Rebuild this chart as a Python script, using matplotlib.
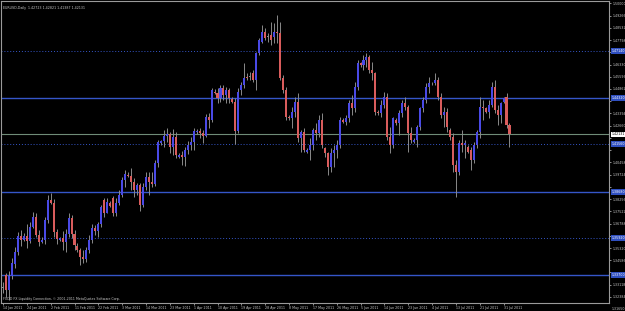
import numpy as np
import matplotlib.pyplot as plt
from matplotlib.transforms import blended_transform_factory

# EURUSD daily candles (one entry per bar, Sunday bars included)
opens = [1.3292, 1.3370, 1.3280, 1.3364, 1.3436, 1.3508, 1.3604, 1.3582, 1.3606, 1.3572,
         1.3660, 1.3716, 1.3612, 1.3570, 1.3580, 1.3700, 1.3820, 1.3800, 1.3626, 1.3580,
         1.3590, 1.3566, 1.3616, 1.3712, 1.3616, 1.3545, 1.3520, 1.3478, 1.3466, 1.3520,
         1.3580, 1.3652, 1.3632, 1.3676, 1.3820, 1.3744, 1.3800, 1.3830, 1.3742, 1.3800,
         1.3850, 1.3940, 1.3970, 1.3964, 1.3930, 1.3880, 1.3910, 1.3790, 1.3900, 1.3960,
         1.3930, 1.3916, 1.4040, 1.4160, 1.4172, 1.4206, 1.4218, 1.4140, 1.4200, 1.4080,
         1.4090, 1.4080, 1.4122, 1.4150, 1.4170, 1.4228, 1.4236, 1.4220, 1.4206, 1.4320,
         1.4300, 1.4470, 1.4462, 1.4430, 1.4490, 1.4450, 1.4480, 1.4424, 1.4410, 1.4236,
         1.4480, 1.4510, 1.4556, 1.4560, 1.4582, 1.4540, 1.4700, 1.4770, 1.4828, 1.4800,
         1.4810, 1.4800, 1.4830, 1.4822, 1.4552, 1.4480, 1.4318, 1.4310, 1.4350, 1.4410,
         1.4190, 1.4230, 1.4110, 1.4120, 1.4150, 1.4240, 1.4220, 1.4300, 1.4130, 1.4100,
         1.4020, 1.4100, 1.4120, 1.4150, 1.4300, 1.4290, 1.4310, 1.4400, 1.4370, 1.4500,
         1.4640, 1.4630, 1.4660, 1.4680, 1.4600, 1.4580, 1.4350, 1.4340, 1.4390, 1.4440,
         1.4200, 1.4150, 1.4300, 1.4280, 1.4340, 1.4400, 1.4380, 1.4220, 1.4170, 1.4180,
         1.4260, 1.4370, 1.4420, 1.4500, 1.4520, 1.4525, 1.4540, 1.4440, 1.4330, 1.4350,
         1.4240, 1.4200, 1.4030, 1.3990, 1.4160, 1.4150, 1.4140, 1.4120, 1.4060, 1.4150,
         1.4230, 1.4380, 1.4370, 1.4350, 1.4390, 1.4500, 1.4360, 1.4330, 1.4410, 1.4440,
         1.42723]
highs = [1.3330, 1.3382, 1.3394, 1.3472, 1.3538, 1.3628, 1.3640, 1.3620, 1.3676, 1.3690,
         1.3748, 1.3742, 1.3640, 1.3596, 1.3720, 1.3850, 1.3862, 1.3826, 1.3646, 1.3600,
         1.3632, 1.3646, 1.3742, 1.3730, 1.3640, 1.3560, 1.3530, 1.3520, 1.3538, 1.3610,
         1.3676, 1.3670, 1.3690, 1.3790, 1.3832, 1.3832, 1.3812, 1.3846, 1.3834, 1.3880,
         1.3960, 1.4000, 1.3986, 1.4010, 1.3950, 1.3920, 1.3920, 1.3920, 1.3990, 1.3990,
         1.3990, 1.4060, 1.4180, 1.4182, 1.4240, 1.4250, 1.4230, 1.4248, 1.4230, 1.4100,
         1.4116, 1.4140, 1.4174, 1.4200, 1.4250, 1.4244, 1.4250, 1.4240, 1.4338, 1.4340,
         1.4490, 1.4486, 1.4490, 1.4510, 1.4510, 1.4500, 1.4490, 1.4436, 1.4430, 1.4490,
         1.4530, 1.4642, 1.4580, 1.4590, 1.4600, 1.4710, 1.4790, 1.4870, 1.4850, 1.4822,
         1.4888, 1.4882, 1.4930, 1.4888, 1.4570, 1.4500, 1.4330, 1.4380, 1.4440, 1.4460,
         1.4240, 1.4250, 1.4130, 1.4190, 1.4250, 1.4280, 1.4330, 1.4340, 1.4140, 1.4110,
         1.4130, 1.4150, 1.4180, 1.4320, 1.4310, 1.4330, 1.4420, 1.4450, 1.4530, 1.4660,
         1.4650, 1.4690, 1.4700, 1.4690, 1.4650, 1.4590, 1.4360, 1.4420, 1.4470, 1.4460,
         1.4260, 1.4320, 1.4310, 1.4360, 1.4420, 1.4440, 1.4390, 1.4260, 1.4190, 1.4270,
         1.4380, 1.4440, 1.4520, 1.4560, 1.4530, 1.4580, 1.4560, 1.4460, 1.4380, 1.4370,
         1.4250, 1.4220, 1.4060, 1.4180, 1.4240, 1.4180, 1.4150, 1.4140, 1.4170, 1.4240,
         1.4440, 1.4420, 1.4380, 1.4420, 1.4530, 1.4540, 1.4390, 1.4410, 1.4440, 1.4460,
         1.42821]
lows = [1.3262, 1.3238, 1.3220, 1.3346, 1.3412, 1.3490, 1.3544, 1.3574, 1.3532, 1.3560,
        1.3652, 1.3598, 1.3544, 1.3560, 1.3556, 1.3680, 1.3796, 1.3600, 1.3556, 1.3572,
        1.3520, 1.3508, 1.3598, 1.3592, 1.3520, 1.3510, 1.3430, 1.3442, 1.3448, 1.3500,
        1.3562, 1.3610, 1.3600, 1.3660, 1.3720, 1.3740, 1.3776, 1.3726, 1.3722, 1.3790,
        1.3836, 1.3900, 1.3956, 1.3880, 1.3840, 1.3850, 1.3756, 1.3780, 1.3880, 1.3852,
        1.3900, 1.3906, 1.4020, 1.4150, 1.4140, 1.4170, 1.4100, 1.4090, 1.4070, 1.4070,
        1.4030, 1.4026, 1.4096, 1.4118, 1.4120, 1.4216, 1.4190, 1.4160, 1.4200, 1.4250,
        1.4290, 1.4456, 1.4400, 1.4410, 1.4420, 1.4400, 1.4400, 1.4400, 1.4156, 1.4220,
        1.4450, 1.4490, 1.4540, 1.4540, 1.4530, 1.4480, 1.4690, 1.4760, 1.4780, 1.4768,
        1.4750, 1.4762, 1.4762, 1.4540, 1.4460, 1.4300, 1.4300, 1.4250, 1.4320, 1.4170,
        1.4110, 1.4110, 1.4100, 1.4060, 1.4120, 1.4180, 1.4200, 1.4130, 1.4080, 1.3970,
        1.3990, 1.4020, 1.4070, 1.4130, 1.4280, 1.4270, 1.4290, 1.4330, 1.4350, 1.4480,
        1.4620, 1.4600, 1.4620, 1.4580, 1.4540, 1.4330, 1.4330, 1.4320, 1.4370, 1.4180,
        1.4100, 1.4130, 1.4270, 1.4210, 1.4320, 1.4360, 1.4110, 1.4160, 1.4160, 1.4140,
        1.4240, 1.4350, 1.4400, 1.4460, 1.4510, 1.4510, 1.4420, 1.4310, 1.4260, 1.4230,
        1.4180, 1.3990, 1.3840, 1.3970, 1.4110, 1.4070, 1.4100, 1.4000, 1.4040, 1.4130,
        1.4190, 1.4300, 1.4340, 1.4310, 1.4380, 1.4340, 1.4270, 1.4280, 1.4400, 1.4250,
        1.41387]
closes = [1.3292, 1.3280, 1.3364, 1.3442, 1.3508, 1.3604, 1.3580, 1.3606, 1.3572, 1.3660,
          1.3716, 1.3612, 1.3566, 1.3580, 1.3700, 1.3820, 1.3800, 1.3626, 1.3586, 1.3590,
          1.3566, 1.3616, 1.3712, 1.3616, 1.3550, 1.3520, 1.3478, 1.3466, 1.3520, 1.3580,
          1.3652, 1.3632, 1.3676, 1.3780, 1.3744, 1.3810, 1.3786, 1.3742, 1.3800, 1.3850,
          1.3940, 1.3976, 1.3964, 1.3930, 1.3880, 1.3910, 1.3790, 1.3900, 1.3960, 1.3930,
          1.3916, 1.4040, 1.4170, 1.4172, 1.4206, 1.4218, 1.4140, 1.4200, 1.4090, 1.4090,
          1.4080, 1.4122, 1.4150, 1.4170, 1.4232, 1.4236, 1.4220, 1.4206, 1.4320, 1.4300,
          1.4480, 1.4462, 1.4430, 1.4490, 1.4450, 1.4480, 1.4430, 1.4410, 1.4236, 1.4470,
          1.4510, 1.4552, 1.4552, 1.4560, 1.4540, 1.4702, 1.4780, 1.4828, 1.4792, 1.4800,
          1.4780, 1.4828, 1.4822, 1.4552, 1.4480, 1.4320, 1.4310, 1.4350, 1.4410, 1.4190,
          1.4230, 1.4120, 1.4120, 1.4150, 1.4240, 1.4220, 1.4300, 1.4150, 1.4100, 1.4020,
          1.4100, 1.4120, 1.4150, 1.4300, 1.4290, 1.4310, 1.4400, 1.4370, 1.4500, 1.4640,
          1.4630, 1.4660, 1.4680, 1.4600, 1.4580, 1.4350, 1.4340, 1.4390, 1.4440, 1.4200,
          1.4150, 1.4310, 1.4280, 1.4340, 1.4400, 1.4380, 1.4220, 1.4180, 1.4180, 1.4260,
          1.4370, 1.4420, 1.4500, 1.4520, 1.4525, 1.4540, 1.4440, 1.4330, 1.4350, 1.4260,
          1.4200, 1.4030, 1.3990, 1.4160, 1.4150, 1.4160, 1.4110, 1.4060, 1.4150, 1.4230,
          1.4380, 1.4370, 1.4350, 1.4390, 1.4500, 1.4360, 1.4330, 1.4400, 1.4430, 1.4272,
          1.42131]

# Date labels, one every 8 bars
date_labels = ["14 Jan 2011", "24 Jan 2011", "2 Feb 2011", "11 Feb 2011", "22 Feb 2011",
               "3 Mar 2011", "14 Mar 2011", "23 Mar 2011", "1 Apr 2011", "10 Apr 2011",
               "19 Apr 2011", "28 Apr 2011", "8 May 2011", "17 May 2011", "26 May 2011",
               "5 Jun 2011", "14 Jun 2011", "23 Jun 2011", "4 Jul 2011", "13 Jul 2011",
               "21 Jul 2011", "31 Jul 2011"]

# Price scale labels on the right
price_ticks = [1.50000, 1.49266, 1.48532, 1.47798, 1.47064, 1.46330, 1.45596, 1.44862,
               1.44128, 1.43394, 1.42660, 1.41926, 1.41192, 1.40458, 1.39724, 1.38990,
               1.38256, 1.37522, 1.36788, 1.36054, 1.35320, 1.34586, 1.33852, 1.33118,
               1.32384, 1.31650]

# Horizontal levels drawn on the chart
solid_levels = [1.44320, 1.38680, 1.33700]
dotted_levels = [1.47140, 1.41560, 1.35920]

header = "EURUSD,Daily  1.42723 1.42821 1.41387 1.42131"
footer = "FXDD FX Liquidity Connection, \u00a9 2001-2011 MetaQuotes Software Corp."

# Colours
bg = "black"
fg = "#c8c8c8"
bull = "#4a4ae6"
bear = "#d95c5c"
wick = "#8a8a8a"
level_col = "#3556c8"
bid_col = "#6f8c78"

o = np.array(opens)
h = np.array(highs)
l = np.array(lows)
c = np.array(closes)
n = len(o)
x = np.arange(n)

fig = plt.figure(figsize=(6.25, 3.11), dpi=100, facecolor=bg)
ax = fig.add_axes([1 / 625, 8 / 311, 608 / 625, 302 / 311], facecolor=bg)

ax.set_xlim(-0.67, 203.4)
ax.set_ylim(1.3202, 1.5014)

# Levels
for lev in solid_levels:
    ax.axhline(lev, color=level_col, lw=1.0, zorder=1)
for lev in dotted_levels:
    ax.axhline(lev, color=level_col, lw=0.7, ls=(0, (1, 2)), zorder=1)
ax.axhline(c[-1], color=bid_col, lw=0.8, zorder=1)

# Candles: wicks then bodies
ax.vlines(x, l, h, color=wick, lw=0.7, zorder=2)
body_low = np.minimum(o, c)
body_h = np.maximum(np.abs(c - o), 0.00035)
cols = np.where(c > o, bull, np.where(c < o, bear, wick))
ax.bar(x, body_h, bottom=body_low, width=0.68, color=cols, linewidth=0, zorder=3)

# Frame
for s in ax.spines.values():
    s.set_color("#9a9a9a")
    s.set_linewidth(0.8)

# Bottom date axis
ax.set_xticks(np.arange(len(date_labels)) * 8)
ax.set_xticklabels(date_labels)
for t in ax.get_xticklabels():
    t.set_ha("left")
ax.tick_params(axis="x", colors=fg, labelsize=2.3, length=1.5, width=0.5, pad=0.6)

# Right price axis
highlights = solid_levels + dotted_levels + [c[-1]]
shown = [p for p in price_ticks if 1.3202 < p < 1.5014]
ax.yaxis.tick_right()
ax.set_yticks(shown)
ax.set_yticklabels(["" if min(abs(p - q) for q in highlights) < 0.0042 else "%.5f" % p
                    for p in shown])
ax.tick_params(axis="y", colors=fg, labelsize=2.3, length=1.5, width=0.5, pad=1.2)

ytr = blended_transform_factory(ax.transAxes, ax.transData)
ax.text(1.0045, price_ticks[-1], "%.5f" % price_ticks[-1], transform=ytr, fontsize=2.3,
        color=fg, va="center", ha="left", clip_on=False)
for lev in solid_levels + dotted_levels:
    ax.text(1.0045, lev, "%.5f" % lev, transform=ytr, fontsize=2.3, color="white",
            va="center", ha="left", clip_on=False, zorder=5,
            bbox=dict(boxstyle="square,pad=0.25", fc="#2f4fc0", ec="none"))
ax.text(1.0045, c[-1], "%.5f" % c[-1], transform=ytr, fontsize=2.3, color="black",
        va="center", ha="left", clip_on=False, zorder=5,
        bbox=dict(boxstyle="square,pad=0.25", fc="white", ec="none"))

# Header and footer text
ax.text(0.004, 0.985, header, transform=ax.transAxes, fontsize=2.3, color=fg,
        va="top", ha="left")
ax.text(0.003, 0.006, footer, transform=ax.transAxes, fontsize=2.3, color=fg,
        va="bottom", ha="left")

fig.savefig("out.png", dpi=100, facecolor=bg)
